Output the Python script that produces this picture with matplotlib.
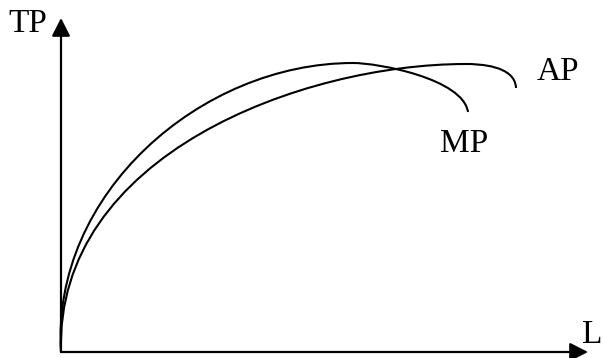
import numpy as np
import matplotlib
matplotlib.use("Agg")
import matplotlib.pyplot as plt
from matplotlib.path import Path
from matplotlib.patches import PathPatch

# Points (L on x, output on y); the marked index is the top of the curve
mp_x = [0, 1, 4, 9, 16, 32, 49, 66, 99, 136, 162, 196, 229, 262, 292, 336, 369, 392, 404, 407]
mp_y = [0, 32, 57, 82, 105, 139, 162, 182, 214, 244, 259, 272, 282, 287, 289, 284, 272, 260, 250, 240]
mp_top = 14
ap_x = [0, 2, 9, 24, 49, 66, 99, 139, 162, 196, 229, 262, 302, 336, 369, 405, 436, 449, 455]
ap_y = [0, 39, 72, 105, 142, 162, 194, 217, 230, 245, 259, 269, 277, 284, 287, 288, 284, 277, 264]
ap_top = 15

labels = ["TP", "L", "AP", "MP"]

fig = plt.figure(figsize=(6.03, 3.58), dpi=100)
ax = fig.add_axes([0, 0, 1, 1])
ax.set_xlim(-61, 542)
ax.set_ylim(-6, 352)
ax.axis("off")


def bern(t):
    t = np.asarray(t, float)
    return np.column_stack([(1 - t) ** 3, 3 * (1 - t) ** 2 * t, 3 * (1 - t) * t ** 2, t ** 3])


def curve_path(xs, ys, top, iters=30):
    """Two cubic Bezier pieces meeting at the top with a horizontal tangent,
    least-squares fitted to the read points."""
    q = np.column_stack([xs, ys]).astype(float)
    S, T, E = q[0], q[top], q[-1]
    parts = [q[:top + 1], q[top:]]
    ts = []
    for seg in parts:
        d = np.r_[0, np.cumsum(np.hypot(*np.diff(seg, axis=0).T))]
        ts.append(d / d[-1])
    # unknowns: c1x, c1y, b, c, c2x, c2y
    for _ in range(iters):
        rows, rhs = [], []
        B0 = bern(ts[0])
        for j, p in enumerate(parts[0]):
            b = B0[j]
            # x: b0*Sx + b1*c1x + b2*(Tx - bb) + b3*Tx
            rows.append([b[1], 0, -b[2], 0, 0, 0])
            rhs.append(p[0] - b[0] * S[0] - b[2] * T[0] - b[3] * T[0])
            rows.append([0, b[1], 0, 0, 0, 0])
            rhs.append(p[1] - b[0] * S[1] - b[2] * T[1] - b[3] * T[1])
        B1 = bern(ts[1])
        for j, p in enumerate(parts[1]):
            b = B1[j]
            rows.append([0, 0, 0, b[1], b[2], 0])
            rhs.append(p[0] - b[0] * T[0] - b[1] * T[0] - b[3] * E[0])
            rows.append([0, 0, 0, 0, 0, b[2]])
            rhs.append(p[1] - b[0] * T[1] - b[1] * T[1] - b[3] * E[1])
        sol, *_ = np.linalg.lstsq(np.array(rows), np.array(rhs), rcond=None)
        c1x, c1y, bb, cc, c2x, c2y = sol
        ctrl = [np.array([S, [c1x, c1y], [T[0] - bb, T[1]], T]),
                np.array([T, [T[0] + cc, T[1]], [c2x, c2y], E])]
        dense = np.linspace(0, 1, 2001)
        new = []
        for seg, cp in zip(parts, ctrl):
            pts = bern(dense) @ cp
            dist = ((seg[:, None, :] - pts[None, :, :]) ** 2).sum(-1)
            t = dense[dist.argmin(axis=1)]
            t[0], t[-1] = 0.0, 1.0
            new.append(t)
        ts = new
    verts = [S, ctrl[0][1], ctrl[0][2], T, ctrl[1][1], ctrl[1][2], E]
    codes = [Path.MOVETO] + [Path.CURVE4] * 6
    return Path(verts, codes)


for xs, ys, top in [(mp_x, mp_y, mp_top), (ap_x, ap_y, ap_top)]:
    ax.add_patch(PathPatch(curve_path(xs, ys, top), facecolor="none",
                           edgecolor="black", lw=1.5, capstyle="butt"))

arrow = dict(arrowstyle="-|>,head_length=0.55,head_width=0.28",
             mutation_scale=20, lw=1.6, color="black",
             shrinkA=0, shrinkB=0)
ax.annotate("", xy=(0, 334), xytext=(0, 0), arrowprops=arrow)
ax.annotate("", xy=(527, 0), xytext=(0, 0), arrowprops=arrow)

font = dict(family="Liberation Serif", fontsize=24, color="black")
ax.text(-53, 320, labels[0], ha="left", va="baseline", **font)
ax.text(521, 9, labels[1], ha="left", va="baseline", **font)
ax.text(476, 272, labels[2], ha="left", va="baseline", **font)
ax.text(379, 200, labels[3], ha="left", va="baseline", **font)

fig.savefig("out.png", dpi=100)
